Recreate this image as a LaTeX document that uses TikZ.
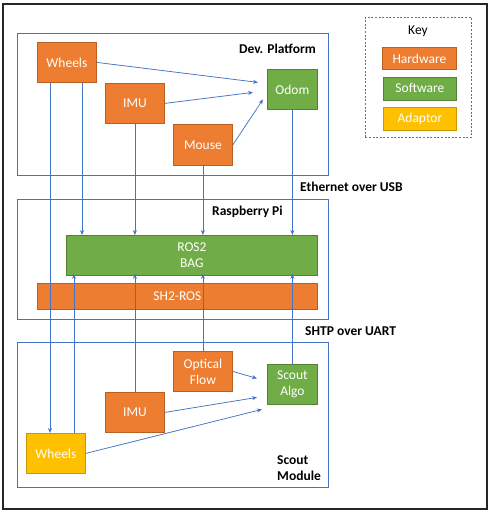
\documentclass[tikz,border=0pt]{standalone}
\usepackage{fontspec}
\setmainfont{Carlito}
\usetikzlibrary{arrows.meta,calc}
\definecolor{hwfill}{HTML}{ED7D31}
\definecolor{hwdraw}{HTML}{B85F22}
\definecolor{swfill}{HTML}{70AD47}
\definecolor{swdraw}{HTML}{548235}
\definecolor{adfill}{HTML}{FFC000}
\definecolor{addraw}{HTML}{C99700}
\definecolor{lineblue}{HTML}{4472C4}
\tikzset{
  txt/.style={font=\fontsize{13.5}{16}\selectfont},
  box/.style={txt, anchor=north west, draw, line width=0.8pt, text=white, align=center, inner sep=0pt},
  hw/.style={box, fill=hwfill, draw=hwdraw},
  sw/.style={box, fill=swfill, draw=swdraw},
  ad/.style={box, fill=adfill, draw=addraw},
  cont/.style={draw=lineblue, line width=0.8pt, anchor=north west, inner sep=0pt},
  conn/.style={draw=lineblue, line width=0.75pt, -{Stealth[length=5pt,width=4pt]}},
  lbl/.style={txt, font=\fontsize{13.5}{16}\selectfont\bfseries, inner sep=0pt, text=black},
}
\begin{document}
\begin{tikzpicture}[x=1pt,y=-1pt]
\useasboundingbox (0,0) rectangle (489,511);
% outer border
\node[draw=black!85, line width=1.8pt, anchor=north west, minimum width=484pt, minimum height=505pt, inner sep=0pt] (frame) at (2,3) {};
% containers
\node[cont, minimum width=311pt, minimum height=142pt] (dev) at (17,33) {};
\node[cont, minimum width=311pt, minimum height=120pt] (rpi) at (17,199) {};
\node[cont, minimum width=311pt, minimum height=145pt] (scout) at (17,342) {};
% key
\node[draw=lineblue, line width=0.9pt, dash pattern=on 2pt off 1.6pt, anchor=north west, minimum width=106pt, minimum height=120pt, inner sep=0pt] (key) at (365,17) {};
\node[txt, text=black] (keyt) at (418,31) {Key};
\node[hw, minimum width=74pt, minimum height=22pt] (khw) at (382,47) {Hardware};
\node[sw, minimum width=73pt, minimum height=23pt] (ksw) at (383,76.5) {Software};
\node[ad, minimum width=73pt, minimum height=23pt] (kad) at (383,106.5) {Adaptor};
% dev platform
\node[hw, minimum width=59pt, minimum height=40pt] (w1) at (37,42) {Wheels};
\node[hw, minimum width=59pt, minimum height=40pt] (imu1) at (105,83) {IMU};
\node[hw, minimum width=59pt, minimum height=41pt] (mouse) at (173,124) {Mouse};
\node[sw, minimum width=50pt, minimum height=40pt] (odom) at (267,69) {Odom};
\node[lbl, anchor=east] (devl) at (316,49) {Dev. Platform};
% raspberry pi
\node[sw, minimum width=251pt, minimum height=40pt] (ros) at (66,235) {ROS2\\BAG};
\node[hw, minimum width=280pt, minimum height=26pt] (sh2) at (37,283) {SH2-ROS};
\node[lbl, anchor=west] (rpil) at (212,212) {Raspberry Pi};
% scout module
\node[hw, minimum width=59pt, minimum height=40pt] (of) at (173,351) {Optical\\Flow};
\node[hw, minimum width=59pt, minimum height=40pt] (imu2) at (105,392) {IMU};
\node[ad, minimum width=59pt, minimum height=40pt] (w2) at (26,433) {Wheels};
\node[sw, minimum width=50pt, minimum height=40pt] (algo) at (267,364) {Scout\\Algo};
\node[lbl, anchor=north west, align=left] (scl) at (277,455.5) {Scout\\Module};
% link labels
\node[lbl, anchor=west] (eth) at (300,187) {Ethernet over USB};
\node[lbl, anchor=west] (shtp) at (305,331) {SHTP over UART};
% connectors into odom
\draw[conn] (w1.east) -- ($(odom.west)+(-9,-7)$);
\draw[conn] (imu1.east) -- ($(odom.west)+(-14,3)$);
\draw[conn] (mouse.east) -- ($(odom.west)+(-4,10)$);
% connectors into scout algo
\draw[conn] (of.east) -- ($(algo.west)+(-10,-6)$);
\draw[conn] (imu2.east) -- ($(algo.west)+(-10,13)$);
\draw[conn] (w2.east) -- ($(algo.west)+(-5,25)$);
% vertical connectors down to ROS2
\draw[conn] (w1.south -| 50,0) -- (w2.north -| 50,0);
\draw[conn] (w1.south -| 82,0) -- (ros.north -| 82,0);
\draw[conn] (imu1.south) -- (ros.north -| imu1.south);
\draw[conn] (mouse.south) -- (ros.north -| mouse.south);
\draw[conn] (odom.south) -- (ros.north -| odom.south);
% vertical connectors up to ROS2
\draw[conn] (w2.north -| 74,0) -- ([yshift=2pt]ros.south -| 74,0);
\draw[conn] (imu2.north) -- ([yshift=2pt]ros.south -| imu2.north);
\draw[conn] (of.north) -- ([yshift=2pt]ros.south -| of.north);
\draw[conn] (algo.north) -- ([yshift=2pt]ros.south -| algo.north);
\end{tikzpicture}
\end{document}
